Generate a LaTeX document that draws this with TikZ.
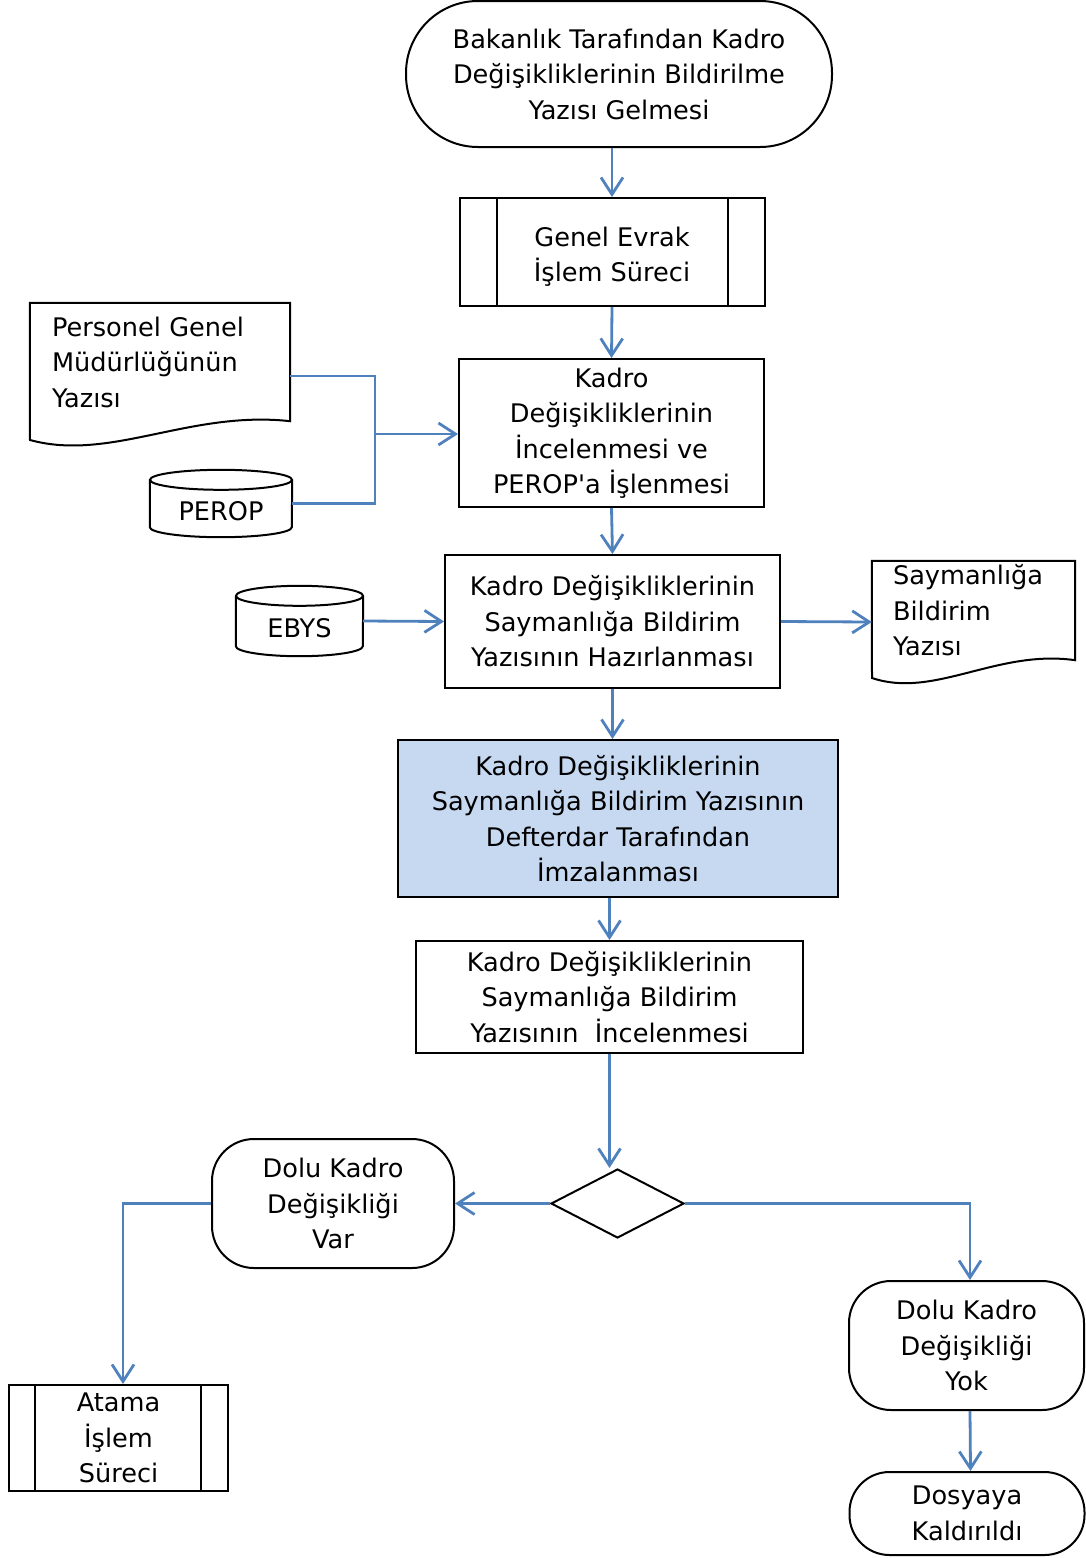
\documentclass[tikz,border=0pt]{standalone}
\usepackage{fontspec}
\setmainfont{DejaVu Sans}[Ligatures=TeXOff]
\usetikzlibrary{arrows.meta,shapes.geometric}
\definecolor{flowblue}{HTML}{4F81BD}
\definecolor{fillblue}{HTML}{C6D9F1}

\begin{document}
\begin{tikzpicture}[x=1pt,y=-1pt,font=\fontsize{25.6}{35.5}\selectfont,
	main/.style = {draw, line width=2pt, align=center, inner sep=0pt},
	term/.style = {main, rounded corners=#1},
	invis/.style = {inner sep=0pt, align=left},
	db/.style = {inner sep=0pt, text height=33pt, text depth=0pt},
	outline/.style = {line width=2pt},
	conn/.style = {draw=flowblue, line width=2.8pt},
	connarr/.style = {conn, -{Straight Barb[length=17pt,width=22pt]}}]
		\useasboundingbox (0,0) rectangle (1085,1558);
		
		%Main column
		\node[term=72pt, minimum width=426pt, minimum height=146pt] (1) at (619,74) {Bakanlık Tarafından Kadro\\Değişikliklerinin Bildirilme\\Yazısı Gelmesi};
		\node[main, text height=59pt, text depth=0pt, minimum width=305pt, minimum height=108pt] (2) at (612,252) {Genel Evrak\\İşlem Süreci};
		\node[main, minimum width=305pt, minimum height=148pt] (3) at (611.5,433) {Kadro\\Değişikliklerinin\\İncelenmesi ve\\PEROP'a İşlenmesi};
		\node[main, minimum width=335pt, minimum height=133pt] (7) at (612.5,621.5) {Kadro Değişikliklerinin\\Saymanlığa Bildirim\\Yazısının Hazırlanması};
		\node[main, fill=fillblue, minimum width=440pt, minimum height=157pt] (9) at (618,818.5) {Kadro Değişikliklerinin\\Saymanlığa Bildirim Yazısının\\Defterdar Tarafından\\İmzalanması};
		\node[main, minimum width=387pt, minimum height=112pt] (10) at (609.5,997) {Kadro Değişikliklerinin\\Saymanlığa Bildirim\\Yazısının\ \ İncelenmesi};
		\node[draw, line width=2pt, diamond, aspect=1.93, minimum width=133pt, minimum height=69pt, inner sep=0pt] (11) at (617.5,1203.5) {};
		
		%Side inputs and outputs
		\node[invis, text width=216pt, minimum width=260pt, minimum height=118pt] (4) at (160,362) {Personel Genel\\Müdürlüğünün\\Yazısı};
		\node[db, minimum width=142pt, minimum height=67pt] (5) at (221,503.5) {PEROP};
		\node[db, minimum width=127pt, minimum height=70pt] (6) at (299.5,621) {EBYS};
		\node[invis, text width=161pt, minimum width=203pt, minimum height=99pt] (8) at (973.5,610.5) {Saymanlığa\\Bildirim\\Yazısı};
		
		%Decision branches
		\node[term=42pt, minimum width=242pt, minimum height=129pt] (12) at (333,1203.5) {Dolu Kadro\\Değişikliği\\Var};
		\node[main, minimum width=219pt, minimum height=106pt] (13) at (118.5,1438) {Atama\\İşlem\\Süreci};
		\node[term=42pt, minimum width=235pt, minimum height=129pt] (14) at (966.5,1345.5) {Dolu Kadro\\Değişikliği\\Yok};
		\node[term=40pt, minimum width=235pt, minimum height=83pt] (15) at (967,1513.5) {Dosyaya\\Kaldırıldı};
		
		%Process bars
		\draw[outline] ([xshift=38pt]2.north west) -- ([xshift=38pt]2.south west);
		\draw[outline] ([xshift=-38pt]2.north east) -- ([xshift=-38pt]2.south east);
		\draw[outline] ([xshift=27pt]13.north west) -- ([xshift=27pt]13.south west);
		\draw[outline] ([xshift=-28pt]13.north east) -- ([xshift=-28pt]13.south east);
		
		%Documents
		\draw[outline] (4.north west) -- (4.north east) -- (4.south east) .. controls (190,410) and (110,462) .. (30,440) -- cycle;
		\draw[outline] (8.north west) -- (8.north east) -- (8.south east) .. controls (997,649) and (934,699) .. (872,678) -- cycle;
		
		%Databases
		\draw[outline] ([yshift=-10pt]5.north) ellipse [x radius=71pt, y radius=10pt];
		\draw[outline] ([yshift=-10pt]5.north west) -- ([yshift=10pt]5.south west) arc[start angle=180, end angle=360, x radius=71pt, y radius=10pt] -- ([yshift=-10pt]5.north east);
		\draw[outline] ([yshift=-10pt]6.north) ellipse [x radius=63.5pt, y radius=10pt];
		\draw[outline] ([yshift=-10pt]6.north west) -- ([yshift=10pt]6.south west) arc[start angle=180, end angle=360, x radius=63.5pt, y radius=10pt] -- ([yshift=-10pt]6.north east);
		
		%Edges
		\draw[connarr] (2.north |- 1.south) -- (2.north); %Edge 1 -> 2
		\draw[connarr] (2.south) -- (3.north); %Edge 2 -> 3
		\coordinate (j) at (375,434);
		\draw[conn] ([yshift=-14pt]4.east) -| (j); %Edge 4 -> 3
		\draw[conn] (5.east) -| (j); %Edge 5 -> 3
		\draw[connarr] (j) -- (3.west |- j);
		\draw[connarr] (3.south) -- (7.north); %Edge 3 -> 7
		\draw[connarr] (6.east) -- (7.west); %Edge 6 -> 7
		\draw[connarr] (7.east) -- ([yshift=-11.5pt]8.west); %Edge 7 -> 8
		\draw[connarr] (7.south) -- (7.south |- 9.north); %Edge 7 -> 9
		\draw[connarr] (10.north |- 9.south) -- (10.north); %Edge 9 -> 10
		\draw[connarr] (10.south) -- (10.south |- 11.north); %Edge 10 -> 11
		\draw[connarr] (11.west) -- (12.east); %Edge 11 -> 12
		\draw[connarr] (12.west) -| ([xshift=4.5pt]13.north); %Edge 12 -> 13
		\draw[connarr] (11.east) -| ([xshift=3.5pt]14.north); %Edge 11 -> 14
		\draw[connarr] ([xshift=3.5pt]14.south) -- ([xshift=3.5pt]15.north); %Edge 14 -> 15
		
	\end{tikzpicture}
\end{document}
